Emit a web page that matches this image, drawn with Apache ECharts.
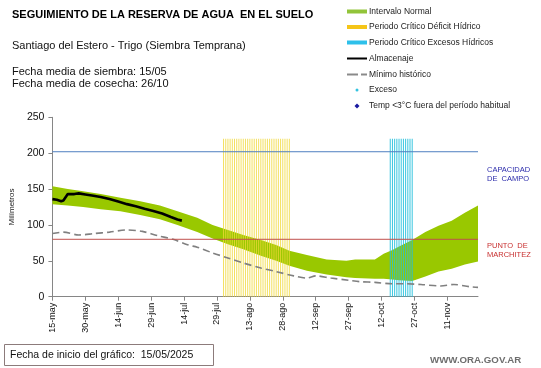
<!DOCTYPE html>
<html><head><meta charset="utf-8">
<script src="https://cdn.jsdelivr.net/npm/echarts@6/dist/echarts.min.js"></script>
<style>html,body{margin:0;padding:0;background:#fff}#c{width:541px;height:368px}</style>
</head><body><div id="c"></div>
<script>
// ---- data ----
const tickLabels = ['15-may','30-may','14-jun','29-jun','14-jul','29-jul','13-ago','28-ago','12-sep','27-sep','12-oct','27-oct','11-nov'];
const bandDays  = [0,7,14,22,31,40,49,57,66,73,80,87,95,102,108,116,125,134,138,147,151,155,158,164,170,176,182,188,194];
const bandLower = [129,127,125,122,119,114,108,100,90,81,73,66,57,50,43,36,31,27,26,25,25,24,23,22,28,35,39,45,49];
const bandUpper = [154,150,147,143,138,133,127,119,110,100,93,86,79,72,64,58,52,50,52,52,60,65,70,79,90,99,106,117,127];
const almDays = [0,2,4,5,7,10,12,15,18,22,26,30,34,38,42,46,50,54,57,59];
const almVals = [136,135,133,134,143,143,144,142.5,141,139,136,132.5,129,126,122.5,119.5,116,111,107.5,106];
const minDays = [0,5,12,19,26,34,41,48,55,62,66,73,80,87,95,102,110,116,120,127,135,140,147,155,161,168,177,183,190,194];
const minVals = [88,90,86,88,90,93,91,85,80,72,69,61,54,47,40,35,29,26,29,26,23,21,20,18,18,17,15,17,14,13];
const deficitDays = [78,79,80,81,82,83,84,85,86,87,88,89,90,91,92,93,94,95,96,97,98,99,100,101,102,103,104,105,106,107,108];
const excessDays = [154,155,156,157,158,159,160,161,162,163,164];
const periodTop = 220;
const capacidadCampo = 202;
const puntoMarchitez = 80;
const axisMaxDay = 194;

const FONT = '"Liberation Sans", Arial, sans-serif';
const chart = echarts.init(document.getElementById('c'));

const legendX = 347, legendTextX = 369;
const legendRows = [11.5, 27, 42.5, 58.5, 74.5, 90, 106];
const legendTexts = ['Intervalo Normal','Periodo Crítico Déficit Hídrico','Periodo Crítico Excesos Hídricos','Almacenaje','Mínimo histórico','Exceso','Temp <3°C fuera del período habitual'];

const graphics = [
  {type:'text', x:12, y:15, style:{text:'SEGUIMIENTO DE LA RESERVA DE AGUA  EN EL SUELO', font:'bold 11px ' + FONT, fill:'#000', verticalAlign:'middle'}},
  {type:'text', x:12, y:46, style:{text:'Santiago del Estero - Trigo (Siembra Temprana)', font:'11px ' + FONT, fill:'#111', verticalAlign:'middle'}},
  {type:'text', x:12, y:72, style:{text:'Fecha media de siembra: 15/05', font:'11px ' + FONT, fill:'#111', verticalAlign:'middle'}},
  {type:'text', x:12, y:84, style:{text:'Fecha media de cosecha: 26/10', font:'11px ' + FONT, fill:'#111', verticalAlign:'middle'}},
  // legend
  {type:'rect', shape:{x:legendX, y:legendRows[0]-2, width:20, height:4}, style:{fill:'#92c43a'}},
  {type:'rect', shape:{x:legendX, y:legendRows[1]-2, width:20, height:4}, style:{fill:'#f5c518'}},
  {type:'rect', shape:{x:legendX, y:legendRows[2]-2, width:20, height:4}, style:{fill:'#2ec0ea'}},
  {type:'line', shape:{x1:legendX, y1:legendRows[3], x2:legendX+20, y2:legendRows[3]}, style:{stroke:'#000', lineWidth:2}},
  {type:'line', shape:{x1:legendX, y1:legendRows[4], x2:legendX+11, y2:legendRows[4]}, style:{stroke:'#8a8a8a', lineWidth:2}},
  {type:'line', shape:{x1:legendX+14, y1:legendRows[4], x2:legendX+20, y2:legendRows[4]}, style:{stroke:'#8a8a8a', lineWidth:2}},
  {type:'circle', shape:{cx:legendX+10, cy:legendRows[5], r:1.5}, style:{fill:'#33c3e0'}},
  {type:'polygon', shape:{points:[[legendX+10, legendRows[6]-2.5],[legendX+12.5, legendRows[6]],[legendX+10, legendRows[6]+2.5],[legendX+7.5, legendRows[6]]]}, style:{fill:'#1a1aa0'}},
  // right labels
  {type:'text', x:487, y:170, style:{text:'CAPACIDAD', font:'7.5px ' + FONT, fill:'#2b2bab', verticalAlign:'middle'}},
  {type:'text', x:487, y:179, style:{text:'DE  CAMPO', font:'7.5px ' + FONT, fill:'#2b2bab', verticalAlign:'middle'}},
  {type:'text', x:487, y:246, style:{text:'PUNTO  DE', font:'7.5px ' + FONT, fill:'#c83030', verticalAlign:'middle'}},
  {type:'text', x:487, y:255, style:{text:'MARCHITEZ', font:'7.5px ' + FONT, fill:'#c83030', verticalAlign:'middle'}},
  // bottom
  {type:'rect', shape:{x:4.5, y:344.5, width:209, height:21}, style:{fill:'none', stroke:'#8c7b7b', lineWidth:1}},
  {type:'text', x:10, y:355, style:{text:'Fecha de inicio del gráfico:  15/05/2025', font:'10.5px ' + FONT, fill:'#111', verticalAlign:'middle'}},
  {type:'text', x:430, y:360, style:{text:'WWW.ORA.GOV.AR', font:'bold 9.7px ' + FONT, fill:'#6e6e6e', verticalAlign:'middle'}}
];
legendTexts.forEach((t, i) => {
  graphics.push({type:'text', x:legendTextX, y:legendRows[i], style:{text:t, font:'8.5px ' + FONT, fill:'#222', verticalAlign:'middle'}});
});

function renderBand(params, api) {
  const pts = [];
  for (let i = 0; i < bandDays.length; i++) pts.push(api.coord([bandDays[i], bandUpper[i]]));
  for (let i = bandDays.length - 1; i >= 0; i--) pts.push(api.coord([bandDays[i], bandLower[i]]));
  return {type: 'polygon', shape: {points: pts}, style: {fill: '#99c800'}};
}
function hLine(color) {
  return function (params, api) {
    const v = api.value(1);
    const a = api.coord([0, v]), b = api.coord([axisMaxDay, v]);
    return {type: 'line', shape: {x1: a[0], y1: a[1], x2: b[0], y2: b[1]}, style: {stroke: color, lineWidth: 1}};
  };
}

chart.setOption({
  animation: false,
  grid: {left: 32.5, right: 63, top: 117.3, bottom: 71.3, containLabel: false},
  xAxis: {
    type: 'value', min: 0, max: axisMaxDay, interval: 15,
    axisLine: {lineStyle: {color: '#868686'}},
    axisTick: {show: true, length: 4, lineStyle: {color: '#868686'}},
    axisLabel: {rotate: 90, fontSize: 9, color: '#111', fontFamily: FONT, margin: 6, showMaxLabel: false,
      formatter: v => (v % 15 === 0 && tickLabels[v / 15]) ? tickLabels[v / 15] : ''},
    splitLine: {show: false}
  },
  yAxis: {
    type: 'value', min: 0, max: 250, interval: 50,
    name: 'Milímetros', nameLocation: 'middle', nameGap: 13, nameRotate: 90,
    nameTextStyle: {fontSize: 8, color: '#222', fontFamily: FONT},
    axisLine: {show: true, lineStyle: {color: '#868686'}},
    axisTick: {show: true, length: 4, lineStyle: {color: '#868686'}},
    axisLabel: {fontSize: 10.5, color: '#111', fontFamily: FONT, margin: 8},
    splitLine: {show: false}
  },
  series: [
    {type: 'custom', name: 'Intervalo Normal', data: [[bandDays[0], bandUpper[0]]], renderItem: renderBand, z: 2, silent: true},
    {type: 'bar', name: 'Periodo Crítico Déficit Hídrico', data: deficitDays.map(d => [d, periodTop]), barWidth: 1, barGap: '-100%',
      itemStyle: {color: '#f0d838', opacity: 0.8}, z: 3, silent: true},
    {type: 'bar', name: 'Periodo Crítico Excesos Hídricos', data: excessDays.map(d => [d, periodTop]), barWidth: 1, barGap: '-100%',
      itemStyle: {color: '#22c0dc', opacity: 0.9}, z: 3, silent: true},
    {type: 'custom', name: 'Capacidad de campo', data: [[0, capacidadCampo]], renderItem: hLine('#4f7fc0'), z: 5, silent: true},
    {type: 'custom', name: 'Punto de marchitez', data: [[0, puntoMarchitez]], renderItem: hLine('#c0504d'), z: 5, silent: true},
    {type: 'line', name: 'Mínimo histórico', data: minDays.map((d, i) => [d, minVals[i]]), smooth: 0.3, symbol: 'none',
      lineStyle: {color: '#808080', width: 1.6, type: [7, 4]}, z: 4, silent: true},
    {type: 'line', name: 'Almacenaje', data: almDays.map((d, i) => [d, almVals[i]]), symbol: 'none',
      lineStyle: {color: '#000', width: 2.6}, z: 5, silent: true}
  ],
  graphic: graphics
});
</script>
</body></html>
